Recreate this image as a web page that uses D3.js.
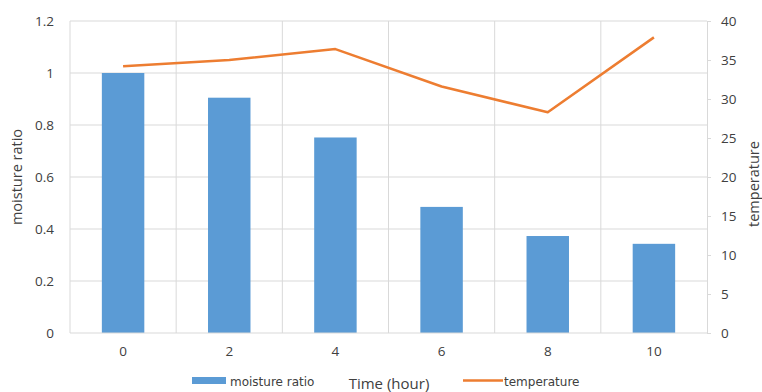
<!DOCTYPE html>
<html><head><meta charset="utf-8">
<script src="https://cdn.jsdelivr.net/npm/d3@7"></script>
<style>body{margin:0;background:#fff;} svg{display:block;} text{font-family:"Open Sans",sans-serif;fill:#404040;}</style>
</head><body>
<svg id="c" width="762" height="392"></svg>
<script>
const categories = ["0","2","4","6","8","10"];
const moisture = [1.0, 0.905, 0.752, 0.485, 0.373, 0.343];
const temperature = [34.2, 35.0, 36.4, 31.6, 28.3, 37.9];
const leftTicks = [0, 0.2, 0.4, 0.6, 0.8, 1, 1.2];
const rightTicks = [0, 5, 10, 15, 20, 25, 30, 35, 40];

const svg = d3.select("#c");
const L = 70, R = 707, T = 21, B = 333;
const x = d3.scaleBand().domain(categories).range([L, R]).paddingInner(0).paddingOuter(0);
const yL = d3.scaleLinear().domain([0, 1.2]).range([B, T]);
const yR = d3.scaleLinear().domain([0, 40]).range([B, T]);
const grid = "#D9D9D9";

// horizontal gridlines
svg.append("g").selectAll("line").data(leftTicks.slice(1)).join("line")
  .attr("x1", L).attr("x2", R).attr("y1", d => yL(d)).attr("y2", d => yL(d))
  .attr("stroke", grid).attr("stroke-width", 1);
// vertical gridlines at band boundaries
svg.append("g").selectAll("line").data(categories.slice(1)).join("line")
  .attr("x1", d => x(d)).attr("x2", d => x(d)).attr("y1", T).attr("y2", B)
  .attr("stroke", grid).attr("stroke-width", 1);

// bars
const bw = x.bandwidth() / 2.5;
svg.append("g").selectAll("rect").data(moisture).join("rect")
  .attr("x", (d, i) => x(categories[i]) + x.bandwidth() / 2 - bw / 2)
  .attr("width", bw)
  .attr("y", d => yL(d)).attr("height", d => yL(0) - yL(d))
  .attr("fill", "#5B9BD5");

// axes lines
svg.append("line").attr("x1", L).attr("x2", L).attr("y1", T).attr("y2", B).attr("stroke", grid);
svg.append("line").attr("x1", L).attr("x2", R).attr("y1", B).attr("y2", B).attr("stroke", grid);

// left axis
const gl = svg.append("g").attr("transform", `translate(${L},0)`)
  .call(d3.axisLeft(yL).tickValues(leftTicks).tickSize(0).tickPadding(16).tickFormat(d => String(d)));
gl.select(".domain").remove();
gl.selectAll("text").style("font-size", "13.5px").attr("fill", "#404040");

// right axis
const gr = svg.append("g").attr("transform", `translate(${R},0)`)
  .call(d3.axisRight(yR).tickValues(rightTicks).tickSize(4).tickPadding(10).tickFormat(d => String(d)));
gr.select(".domain").attr("stroke", grid);
gr.selectAll(".tick line").attr("stroke", grid);
gr.selectAll("text").style("font-size", "13.5px").attr("fill", "#404040");

// bottom axis
const gb = svg.append("g").attr("transform", `translate(0,${B})`)
  .call(d3.axisBottom(x).tickSize(0).tickPadding(13));
gb.select(".domain").remove();
gb.selectAll("text").style("font-size", "13.5px").attr("fill", "#404040");

// temperature line
const line = d3.line().x((d, i) => x(categories[i]) + x.bandwidth() / 2).y(d => yR(d));
svg.append("path").datum(temperature).attr("d", line)
  .attr("fill", "none").attr("stroke", "#ED7D31").attr("stroke-width", 2.5).attr("stroke-linejoin", "round");

// axis titles
svg.append("text").attr("transform", `translate(22,177) rotate(-90)`).attr("text-anchor", "middle")
  .style("font-size", "14.5px").text("moisture ratio");
svg.append("text").attr("transform", `translate(759,184) rotate(-90)`).attr("text-anchor", "middle")
  .style("font-size", "14.5px").text("temperature");
svg.append("text").attr("x", 389).attr("y", 389).attr("text-anchor", "middle")
  .style("font-size", "15px").text("Time (hour)");

// legend
svg.append("rect").attr("x", 192).attr("y", 377).attr("width", 34).attr("height", 7).attr("fill", "#5B9BD5");
svg.append("text").attr("x", 230).attr("y", 386).style("font-family", "'DejaVu Sans',sans-serif").style("font-size", "12px").text("moisture ratio");
svg.append("line").attr("x1", 463).attr("x2", 503).attr("y1", 380.5).attr("y2", 380.5).attr("stroke", "#ED7D31").attr("stroke-width", 2.5);
svg.append("text").attr("x", 504).attr("y", 386).style("font-family", "'DejaVu Sans',sans-serif").style("font-size", "12px").text("temperature");
</script>
</body></html>
